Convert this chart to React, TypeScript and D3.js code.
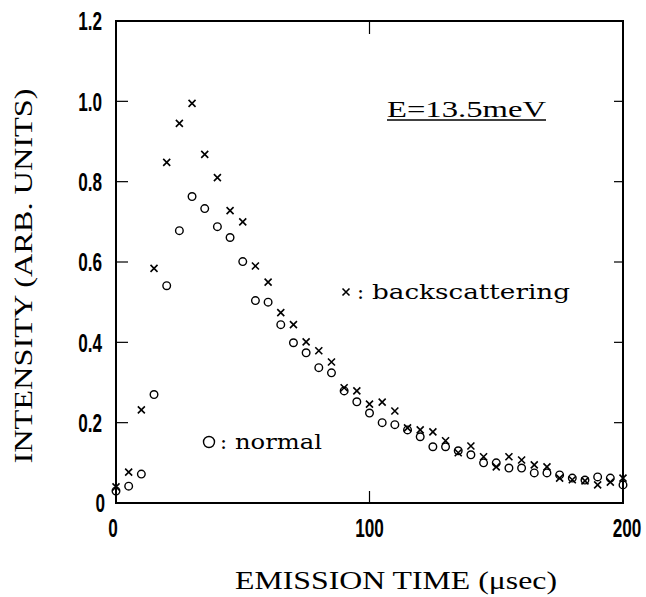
import React from "react";
import * as d3 from "d3";

const times: number[] = [
  0, 5, 10, 15, 20, 25, 30, 35, 40, 45, 50, 55, 60, 65, 70, 75, 80, 85, 90, 95,
  100, 105, 110, 115, 120, 125, 130, 135, 140, 145, 150, 155, 160, 165, 170,
  175, 180, 185, 190, 195, 200,
];

const backscattering: number[] = [
  0.04, 0.077, 0.232, 0.584, 0.848, 0.945, 0.995, 0.868, 0.81, 0.728, 0.7,
  0.59, 0.55, 0.474, 0.444, 0.401, 0.379, 0.351, 0.287, 0.279, 0.246, 0.251,
  0.229, 0.187, 0.182, 0.177, 0.155, 0.125, 0.142, 0.115, 0.09, 0.115, 0.107,
  0.095, 0.09, 0.062, 0.058, 0.055, 0.045, 0.052, 0.062,
];

const normal: number[] = [
  0.03, 0.042, 0.072, 0.27, 0.541, 0.678, 0.763, 0.733, 0.688, 0.661, 0.601,
  0.504, 0.5, 0.444, 0.399, 0.374, 0.337, 0.324, 0.279, 0.252, 0.224, 0.2,
  0.195, 0.182, 0.165, 0.14, 0.14, 0.13, 0.12, 0.1, 0.1, 0.087, 0.087, 0.075,
  0.075, 0.07, 0.062, 0.057, 0.065, 0.062, 0.045,
];

const yTicks: number[] = [0, 0.2, 0.4, 0.6, 0.8, 1.0, 1.2];
const yTickLabels: string[] = ["0", "0.2", "0.4", "0.6", "0.8", "1.0", "1.2"];
const xTicks: number[] = [0, 100, 200];
const xTickLabels: string[] = ["0", "100", "200"];

const W = 646;
const H = 597;
const L = 116;
const R = 623;
const T = 21;
const B = 503;

const tickFont = "'Liberation Sans', Arial, sans-serif";
const serif = "'Liberation Serif', 'DejaVu Serif', serif";
const slab = "'DejaVu Serif', 'Liberation Serif', serif";

export default function App() {
  const x = d3.scaleLinear().domain([0, 200]).range([L, R]);
  const y = d3.scaleLinear().domain([0, 1.2]).range([B, T]);
  const cr = 3.8;
  const xs = 3.5;

  const cross = (cx: number, cy: number, k: string) => (
    <path
      key={k}
      d={`M${cx - xs},${cy - xs}L${cx + xs},${cy + xs}M${cx - xs},${cy + xs}L${cx + xs},${cy - xs}`}
      stroke="#000"
      strokeWidth={1.6}
      fill="none"
    />
  );

  return (
    <svg
      width={W}
      height={H}
      style={{ position: "absolute", left: 0, top: 0, background: "#fff" }}
    >
      <rect x={0} y={0} width={W} height={H} fill="#fff" />
      {/* frame */}
      <rect x={L} y={T} width={R - L} height={B - T} fill="none" stroke="#000" strokeWidth={2} />

      {/* y ticks */}
      {yTicks.map((v, i) =>
        v > 0 && v < 1.2 ? (
          <g key={"yt" + i}>
            <line x1={L} x2={L + 12} y1={y(v)} y2={y(v)} stroke="#000" strokeWidth={1.2} />
            <line x1={R} x2={R - 9} y1={y(v)} y2={y(v)} stroke="#000" strokeWidth={1.2} />
          </g>
        ) : null
      )}
      {yTicks.map((v, i) => (
        <text
          key={"yl" + i}
          transform={`translate(${i === 0 ? 105 : 102},${y(v)}) scale(0.66,1)`}
          dy="0.36em"
          textAnchor="end"
          fontFamily={tickFont}
          fontWeight="bold"
          fontSize={26}
        >
          {yTickLabels[i]}
        </text>
      ))}

      {/* x ticks */}
      {xTicks.map((v, i) =>
        v > 0 && v < 200 ? (
          <g key={"xt" + i}>
            <line x1={x(v)} x2={x(v)} y1={B} y2={B - 12} stroke="#000" strokeWidth={1.2} />
            <line x1={x(v)} x2={x(v)} y1={T} y2={T + 13} stroke="#000" strokeWidth={1.2} />
          </g>
        ) : null
      )}
      {xTicks.map((v, i) => (
        <text
          key={"xl" + i}
          transform={`translate(${x(v) + (i === 0 ? -3 : i === 2 ? 4 : 0)},537) scale(0.66,1)`}
          textAnchor="middle"
          fontFamily={tickFont}
          fontWeight="bold"
          fontSize={26}
        >
          {xTickLabels[i]}
        </text>
      ))}

      {/* axis titles */}
      <text
        x={396}
        y={589}
        textAnchor="middle"
        fontFamily={serif}
        fontSize={25}
        textLength={322}
        lengthAdjust="spacingAndGlyphs"
      >
        EMISSION TIME (μsec)
      </text>
      <text
        transform="translate(32,276) rotate(-90)"
        textAnchor="middle"
        fontFamily={serif}
        fontSize={25}
        textLength={375}
        lengthAdjust="spacingAndGlyphs"
      >
        INTENSITY (ARB. UNITS)
      </text>

      {/* annotations */}
      <text
        x={387}
        y={117}
        fontFamily={serif}
        fontSize={23}
        textLength={159}
        lengthAdjust="spacingAndGlyphs"
      >
        E=13.5meV
      </text>
      <line x1={387} x2={546} y1={120} y2={120} stroke="#000" strokeWidth={1.3} />

      {cross(346, 292, "lx")}
      <text x={357} y={299} fontFamily={slab} fontSize={21}>
        :
      </text>
      <text
        x={372}
        y={299}
        fontFamily={slab}
        fontSize={21}
        textLength={198}
        lengthAdjust="spacingAndGlyphs"
      >
        backscattering
      </text>

      <circle cx={209} cy={442} r={5.5} fill="none" stroke="#000" strokeWidth={1.4} />
      <text x={220} y={449} fontFamily={slab} fontSize={21}>
        :
      </text>
      <text
        x={235}
        y={449}
        fontFamily={slab}
        fontSize={21}
        textLength={87}
        lengthAdjust="spacingAndGlyphs"
      >
        normal
      </text>

      {/* data */}
      {times.map((t, i) => (
        <circle
          key={"n" + i}
          cx={x(t)}
          cy={y(normal[i])}
          r={cr}
          fill="none"
          stroke="#000"
          strokeWidth={1.4}
        />
      ))}
      {times.map((t, i) => cross(x(t), y(backscattering[i]), "b" + i))}
    </svg>
  );
}
